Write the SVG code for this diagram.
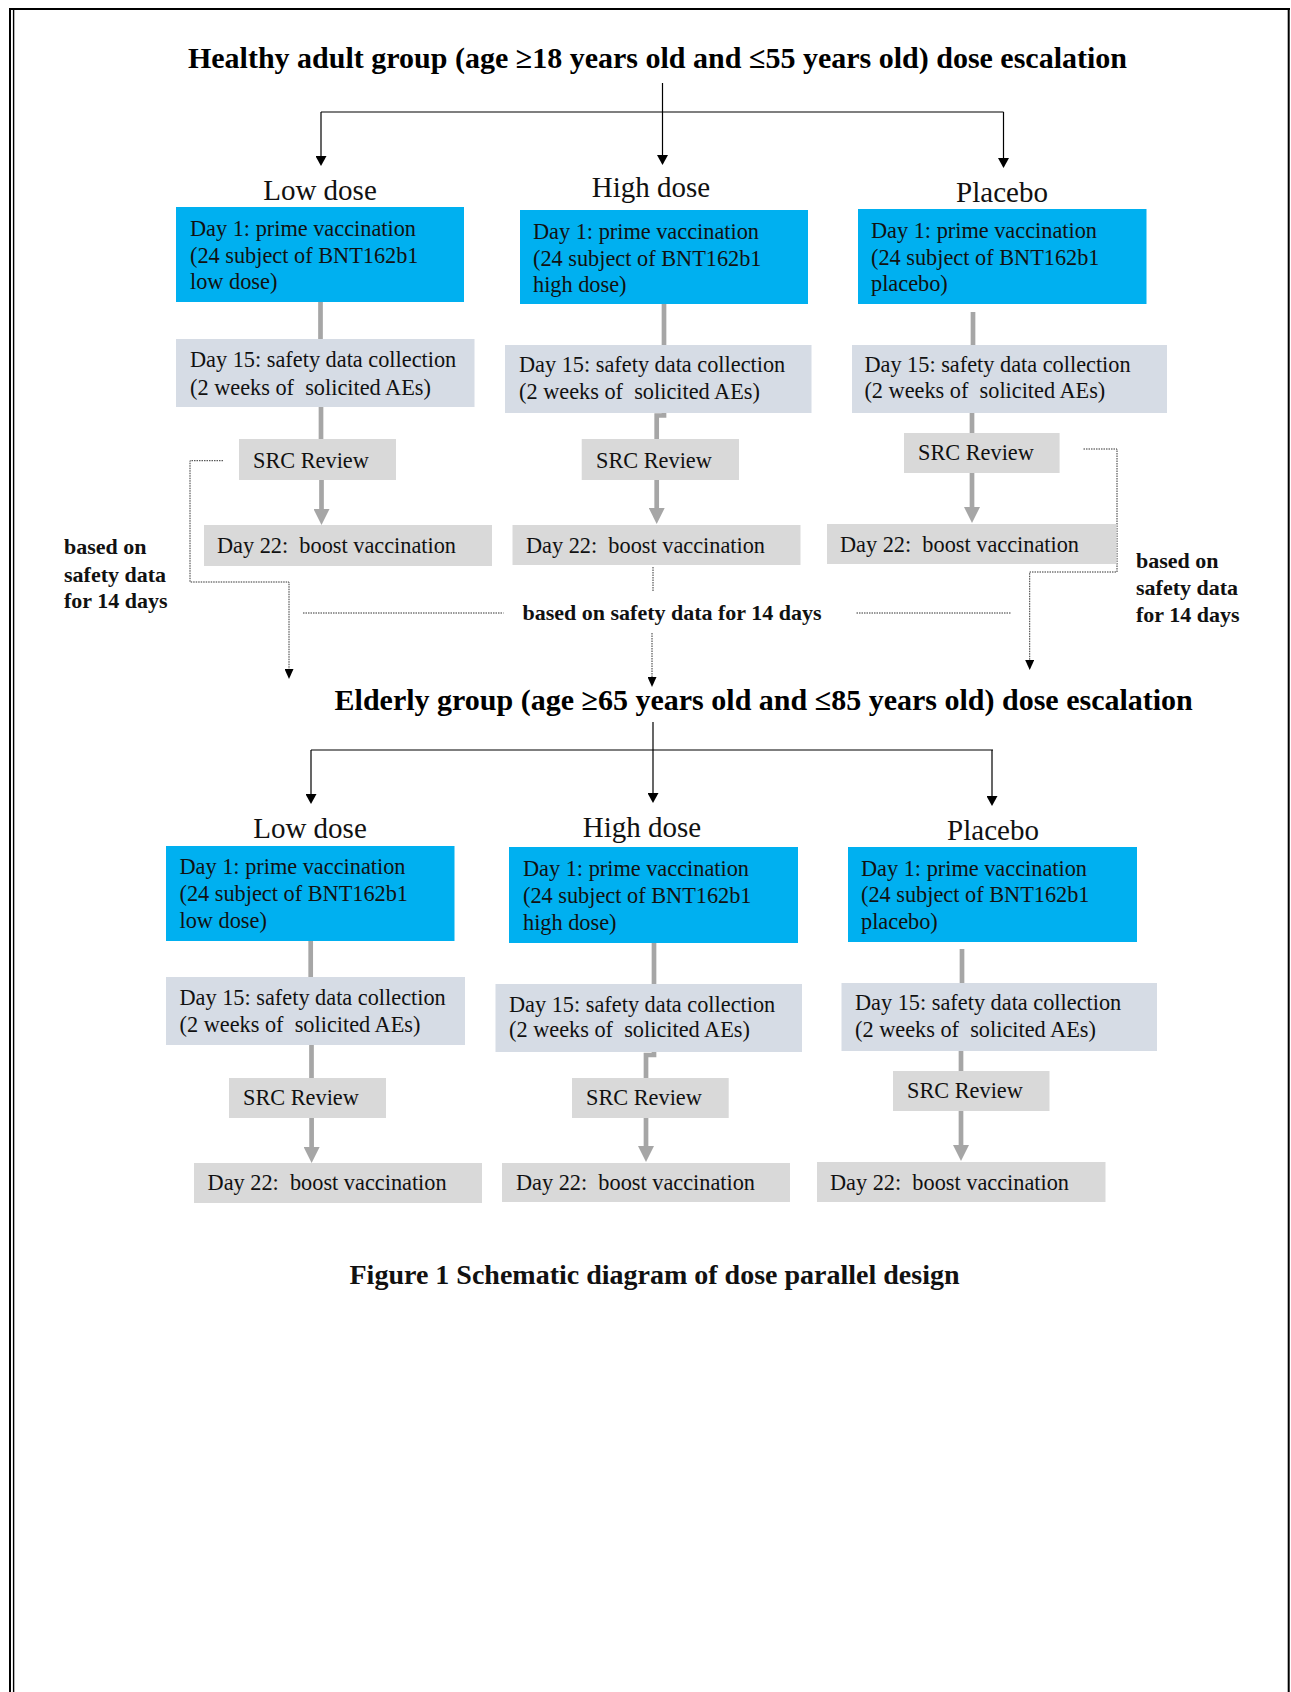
<svg xmlns="http://www.w3.org/2000/svg" width="1291" height="1692" viewBox="0 0 1291 1692">
<style>
.t{font-family:"Liberation Serif","Times New Roman",serif;font-size:22.3px;fill:#111;white-space:pre}
.h{font-size:29px}
.b{font-weight:bold;font-size:22px}
.ttl{font-size:30px;font-weight:bold;text-anchor:middle;fill:#000}
.blue{fill:#00b0f0}
.d15{fill:#d6dce5}
.gr{fill:#d9d9d9}
.gl{stroke:#a6a6a6;stroke-width:4.7;fill:none}
.bl{stroke:#000;stroke-width:1.2;fill:none}
.dot{stroke:#333;stroke-width:1;stroke-dasharray:1.5 1;fill:none}
.bd{stroke:#000;fill:none}
</style>
<defs>
<marker id="ab" markerUnits="userSpaceOnUse" markerWidth="10" markerHeight="11" viewBox="0 0 10 11" refX="0" refY="5.5" orient="auto"><path d="M0,0 L10,5.5 L0,11 z" fill="#000"/></marker>
<marker id="ag" markerUnits="userSpaceOnUse" markerWidth="16" markerHeight="16" viewBox="0 0 16 16" refX="0" refY="8" orient="auto"><path d="M0,0 L16,8 L0,16 z" fill="#a6a6a6"/></marker>
<marker id="ad" markerUnits="userSpaceOnUse" markerWidth="10" markerHeight="9" viewBox="0 0 10 9" refX="0" refY="4.5" orient="auto"><path d="M0,0 L10,4.5 L0,9 z" fill="#000"/></marker>
</defs>
<rect width="1291" height="1692" fill="#fff"/>
<g id="border">
<line class="bd" x1="9" y1="9" x2="1290" y2="9" stroke-width="2"/>
<line class="bd" x1="10" y1="8" x2="10" y2="1692" stroke-width="2"/>
<line class="bd" x1="13.6" y1="10" x2="13.6" y2="1692" stroke-width="1.4"/>
<line class="bd" x1="1288.7" y1="8" x2="1288.7" y2="1692" stroke-width="2"/>
</g>

<g id="connectors">
<path class="bl" d="M662.5,83 V155" marker-end="url(#ab)"/>
<path class="bl" d="M321,112 H1003.5"/>
<path class="bl" d="M321,112 V156" marker-end="url(#ab)"/>
<path class="bl" d="M1003.5,112 V158" marker-end="url(#ab)"/>
<path class="gl" d="M320.5,302 V339"/>
<path class="gl" d="M321,407 V439"/>
<path class="gl" d="M321.5,480 V509" marker-end="url(#ag)"/>
<path class="gl" d="M664,304 V345"/>
<path class="gl" d="M664,413 V415.5 H656.7 V439"/>
<path class="gl" d="M656.7,480 V508" marker-end="url(#ag)"/>
<path class="gl" d="M973,312 V345"/>
<path class="gl" d="M972,413 V433"/>
<path class="gl" d="M972,473 V507" marker-end="url(#ag)"/>
<path class="dot" d="M223,460.7 H190 V582 H289 V669" marker-end="url(#ad)"/>
<path class="dot" d="M653,567 V591"/>
<path class="dot" d="M303,613 H503.5"/>
<path class="dot" d="M856.5,613 H1010.7"/>
<path class="dot" d="M652,633 V677" marker-end="url(#ad)"/>
<path class="dot" d="M1083.5,449 H1117 V572 H1029.7 V660" marker-end="url(#ad)"/>
<path class="bl" d="M653,722 V793" marker-end="url(#ab)"/>
<path class="bl" d="M311,750 H993"/>
<path class="bl" d="M311,750 V794" marker-end="url(#ab)"/>
<path class="bl" d="M992,750 V796" marker-end="url(#ab)"/>
<path class="gl" d="M310.7,941 V977"/>
<path class="gl" d="M311.5,1045 V1078"/>
<path class="gl" d="M311.6,1118 V1147" marker-end="url(#ag)"/>
<path class="gl" d="M654,943 V984"/>
<path class="gl" d="M654,1052 V1055 H646 V1078"/>
<path class="gl" d="M646,1118 V1146" marker-end="url(#ag)"/>
<path class="gl" d="M962,949 V983"/>
<path class="gl" d="M961,1051 V1071"/>
<path class="gl" d="M961,1111 V1145" marker-end="url(#ag)"/>
</g>

<g id="title1"><text class="t ttl" x="657.5" y="68">Healthy adult group (age ≥18 years old and ≤55 years old) dose escalation</text></g>

<g id="h-low-label"><text class="t h" x="320" y="200" text-anchor="middle">Low dose</text></g>
<g id="h-high-label"><text class="t h" x="651" y="197" text-anchor="middle">High dose</text></g>
<g id="h-pla-label"><text class="t h" x="1002" y="202" text-anchor="middle">Placebo</text></g>

<g id="h-low-d1"><rect class="blue" x="176" y="207" width="288" height="95"/>
<text class="t" x="190" y="236">Day 1: prime vaccination</text><text class="t" x="190" y="263">(24 subject of BNT162b1</text><text class="t" x="190" y="289">low dose)</text></g>
<g id="h-high-d1"><rect class="blue" x="520" y="210" width="288" height="94"/>
<text class="t" x="533" y="239">Day 1: prime vaccination</text><text class="t" x="533" y="265.5">(24 subject of BNT162b1</text><text class="t" x="533" y="292">high dose)</text></g>
<g id="h-pla-d1"><rect class="blue" x="858" y="209" width="288.5" height="95"/>
<text class="t" x="871" y="238">Day 1: prime vaccination</text><text class="t" x="871" y="264.5">(24 subject of BNT162b1</text><text class="t" x="871" y="291">placebo)</text></g>

<g id="h-low-d15"><rect class="d15" x="176" y="339" width="298.5" height="68"/>
<text class="t" x="190" y="367">Day 15: safety data collection</text><text class="t" x="190" y="395">(2 weeks of  solicited AEs)</text></g>
<g id="h-high-d15"><rect class="d15" x="505" y="345" width="306.5" height="68"/>
<text class="t" x="519" y="372">Day 15: safety data collection</text><text class="t" x="519" y="399">(2 weeks of  solicited AEs)</text></g>
<g id="h-pla-d15"><rect class="d15" x="852" y="345" width="315" height="68"/>
<text class="t" x="864.4" y="372">Day 15: safety data collection</text><text class="t" x="864.4" y="398">(2 weeks of  solicited AEs)</text></g>

<g id="h-low-src"><rect class="gr" x="239" y="439" width="157" height="41"/><text class="t" x="253" y="468">SRC Review</text></g>
<g id="h-high-src"><rect class="gr" x="581.7" y="439" width="157.3" height="41"/><text class="t" x="596" y="468">SRC Review</text></g>
<g id="h-pla-src"><rect class="gr" x="904" y="433" width="155.6" height="40"/><text class="t" x="918" y="460">SRC Review</text></g>

<g id="h-low-d22"><rect class="gr" x="204" y="525" width="288" height="41"/><text class="t" x="217" y="553">Day 22:  boost vaccination</text></g>
<g id="h-high-d22"><rect class="gr" x="512.5" y="525" width="288" height="40"/><text class="t" x="526" y="553">Day 22:  boost vaccination</text></g>
<g id="h-pla-d22"><rect class="gr" x="827" y="524" width="289.5" height="40"/><text class="t" x="840" y="552">Day 22:  boost vaccination</text></g>

<g id="note-left"><text class="t b" x="64" y="554">based on</text><text class="t b" x="64" y="581.5">safety data</text><text class="t b" x="64" y="608">for 14 days</text></g>
<g id="note-mid"><text class="t b" x="672" y="620" text-anchor="middle">based on safety data for 14 days</text></g>
<g id="note-right"><text class="t b" x="1136" y="568">based on</text><text class="t b" x="1136" y="595">safety data</text><text class="t b" x="1136" y="622">for 14 days</text></g>

<g id="title2"><text class="t ttl" x="763.7" y="710">Elderly group (age ≥65 years old and ≤85 years old) dose escalation</text></g>

<g id="e-low-label"><text class="t h" x="310" y="838" text-anchor="middle">Low dose</text></g>
<g id="e-high-label"><text class="t h" x="642" y="837" text-anchor="middle">High dose</text></g>
<g id="e-pla-label"><text class="t h" x="993" y="840" text-anchor="middle">Placebo</text></g>

<g id="e-low-d1"><rect class="blue" x="166" y="846" width="288.5" height="95"/>
<text class="t" x="179.5" y="874">Day 1: prime vaccination</text><text class="t" x="179.5" y="901">(24 subject of BNT162b1</text><text class="t" x="179.5" y="928">low dose)</text></g>
<g id="e-high-d1"><rect class="blue" x="509" y="847" width="289" height="96"/>
<text class="t" x="523" y="876">Day 1: prime vaccination</text><text class="t" x="523" y="903">(24 subject of BNT162b1</text><text class="t" x="523" y="930">high dose)</text></g>
<g id="e-pla-d1"><rect class="blue" x="848" y="847" width="289" height="95"/>
<text class="t" x="861" y="876">Day 1: prime vaccination</text><text class="t" x="861" y="902">(24 subject of BNT162b1</text><text class="t" x="861" y="929">placebo)</text></g>

<g id="e-low-d15"><rect class="d15" x="166" y="977" width="299" height="68"/>
<text class="t" x="179.5" y="1005">Day 15: safety data collection</text><text class="t" x="179.5" y="1032">(2 weeks of  solicited AEs)</text></g>
<g id="e-high-d15"><rect class="d15" x="495.5" y="984" width="306.5" height="68"/>
<text class="t" x="509" y="1012">Day 15: safety data collection</text><text class="t" x="509" y="1037">(2 weeks of  solicited AEs)</text></g>
<g id="e-pla-d15"><rect class="d15" x="841.5" y="983" width="315.5" height="68"/>
<text class="t" x="855" y="1010">Day 15: safety data collection</text><text class="t" x="855" y="1037">(2 weeks of  solicited AEs)</text></g>

<g id="e-low-src"><rect class="gr" x="229" y="1078" width="157" height="40"/><text class="t" x="243" y="1105">SRC Review</text></g>
<g id="e-high-src"><rect class="gr" x="572" y="1078" width="156.7" height="40"/><text class="t" x="586" y="1105">SRC Review</text></g>
<g id="e-pla-src"><rect class="gr" x="893" y="1071" width="156.5" height="40"/><text class="t" x="907" y="1098">SRC Review</text></g>

<g id="e-low-d22"><rect class="gr" x="194" y="1163" width="288" height="40"/><text class="t" x="207.6" y="1190">Day 22:  boost vaccination</text></g>
<g id="e-high-d22"><rect class="gr" x="502" y="1163" width="288" height="39"/><text class="t" x="516" y="1190">Day 22:  boost vaccination</text></g>
<g id="e-pla-d22"><rect class="gr" x="817" y="1162" width="288.5" height="40"/><text class="t" x="830" y="1190">Day 22:  boost vaccination</text></g>

<g id="caption"><text class="t b" x="654.5" y="1284" text-anchor="middle" style="font-size:28px">Figure 1 Schematic diagram of dose parallel design</text></g>
</svg>
